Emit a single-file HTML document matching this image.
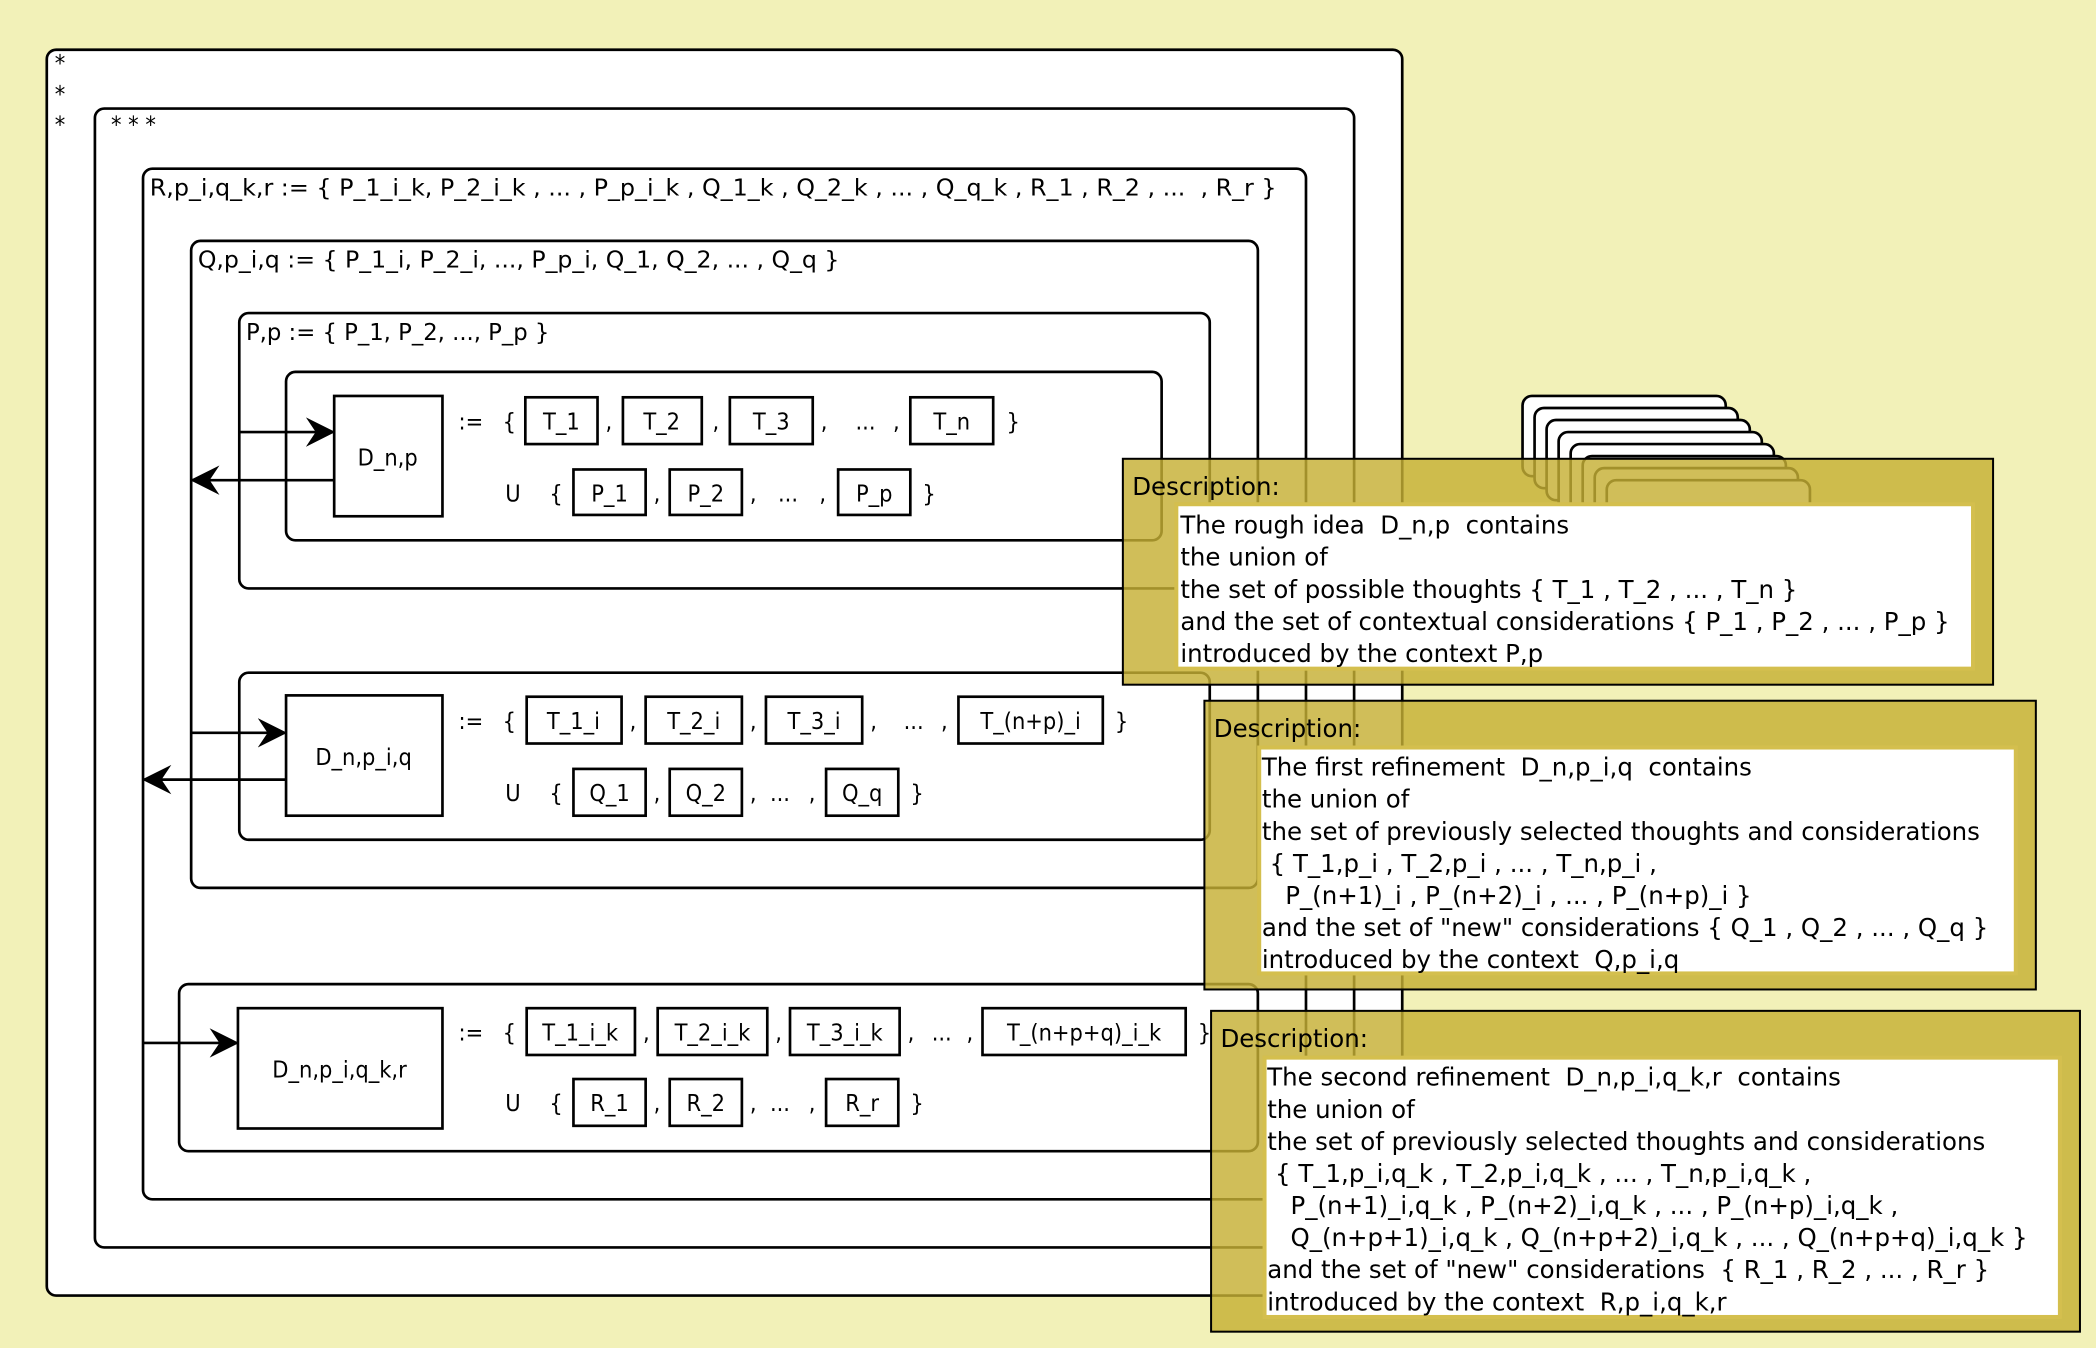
<!DOCTYPE html>
<html><head><meta charset="utf-8"><style>
html,body{margin:0;padding:0;background:#f2f1b8;}
svg{display:block}
text{white-space:pre}
.d{font-family:"DejaVu Sans Condensed","DejaVu Sans","Liberation Sans Narrow","Liberation Sans",sans-serif;font-stretch:condensed;font-size:17.5px;fill:#000}
.t{font-family:"DejaVu Sans","Liberation Sans",sans-serif;font-size:18.3px;fill:#000}
</style></head><body>
<svg width="2096" height="1348" viewBox="0 0 1568 1008" xmlns="http://www.w3.org/2000/svg">
<defs>
<marker id="ar" viewBox="0 0 12 12" refX="11" refY="6" markerWidth="22" markerHeight="22" markerUnits="userSpaceOnUse" orient="auto">
<path d="M0,0 L12,6 L0,12 L4,6 Z" fill="#000"/></marker>
</defs>
<rect width="1568" height="1008" fill="#f2f1b8"/>
<g fill="#fff" stroke="#000" stroke-width="2">
<rect x="35" y="37" width="1014" height="932" rx="7"/>
<rect x="71" y="81" width="942" height="852" rx="7"/>
<rect x="107" y="126" width="870" height="771" rx="7"/>
<rect x="143" y="180" width="798" height="484" rx="7"/>
<rect x="179" y="234" width="726" height="206" rx="7"/>
<rect x="214" y="278" width="655" height="126" rx="7"/>
<rect x="179" y="503" width="726" height="125" rx="7"/>
<rect x="134" y="736" width="807" height="125" rx="7"/>
</g>
<g class="d">
<text x="41" y="53">*</text><text x="41" y="76">*</text><text x="41" y="99">*</text>
<text x="83" y="99">* * *</text>
<text x="112" y="146" textLength="843" lengthAdjust="spacingAndGlyphs">R,p_i,q_k,r := { P_1_i_k, P_2_i_k , ... , P_p_i_k , Q_1_k , Q_2_k , ... , Q_q_k , R_1 , R_2 , ...  , R_r }</text>
<text x="148" y="200" textLength="480" lengthAdjust="spacingAndGlyphs">Q,p_i,q := { P_1_i, P_2_i, ..., P_p_i, Q_1, Q_2, ... , Q_q }</text>
<text x="184" y="254" textLength="227" lengthAdjust="spacingAndGlyphs">P,p := { P_1, P_2, ..., P_p }</text>
</g>
<g fill="#fff" stroke="#000" stroke-width="2">
<rect x="250" y="296" width="81" height="90"/>
<rect x="214" y="520" width="117" height="90"/>
<rect x="178" y="754" width="153" height="90"/>
<rect x="393" y="297" width="54" height="35"/><rect x="466" y="297" width="59" height="35"/><rect x="546" y="297" width="62" height="35"/><rect x="681" y="297" width="62" height="35"/>
<rect x="429" y="351" width="54" height="34"/><rect x="501" y="351" width="54" height="34"/><rect x="627" y="351" width="54" height="34"/>
<rect x="394" y="521" width="71" height="35"/><rect x="483" y="521" width="72" height="35"/><rect x="573" y="521" width="72" height="35"/><rect x="717" y="521" width="108" height="35"/>
<rect x="429" y="575" width="54" height="35"/><rect x="501" y="575" width="54" height="35"/><rect x="618" y="575" width="54" height="35"/>
<rect x="394" y="754" width="81" height="35"/><rect x="492" y="754" width="82" height="35"/><rect x="591" y="754" width="82" height="35"/><rect x="735" y="754" width="152" height="35"/>
<rect x="429" y="807" width="54" height="35"/><rect x="501" y="807" width="54" height="35"/><rect x="618" y="807" width="54" height="35"/>
</g>
<g stroke="#000" stroke-width="2" fill="none">
<line x1="179" y1="323" x2="249" y2="323" marker-end="url(#ar)"/>
<line x1="250" y1="359" x2="144" y2="359" marker-end="url(#ar)"/>
<line x1="143" y1="548" x2="213" y2="548" marker-end="url(#ar)"/>
<line x1="214" y1="583" x2="108" y2="583" marker-end="url(#ar)"/>
<line x1="107" y1="780" x2="177" y2="780" marker-end="url(#ar)"/>
</g>
<g class="d" text-anchor="middle">
<text x="290" y="348">D_n,p</text>
<text x="272" y="572">D_n,p_i,q</text>
<text x="254" y="806">D_n,p_i,q_k,r</text>
<text x="420" y="321">T_1</text><text x="495" y="321">T_2</text><text x="577" y="321">T_3</text><text x="712" y="321">T_n</text>
<text x="456" y="375">P_1</text><text x="528" y="375">P_2</text><text x="654" y="375">P_p</text>
<text x="429" y="545">T_1_i</text><text x="519" y="545">T_2_i</text><text x="609" y="545">T_3_i</text><text x="771" y="545">T_(n+p)_i</text>
<text x="456" y="599">Q_1</text><text x="528" y="599">Q_2</text><text x="645" y="599">Q_q</text>
<text x="434" y="778">T_1_i_k</text><text x="533" y="778">T_2_i_k</text><text x="632" y="778">T_3_i_k</text><text x="811" y="778">T_(n+p+q)_i_k</text>
<text x="456" y="831">R_1</text><text x="528" y="831">R_2</text><text x="645" y="831">R_r</text>
</g>
<g class="d">
<text x="343" y="321">:=</text><text x="376" y="321">{</text><text x="453" y="321">,</text><text x="533" y="321">,</text><text x="614" y="321">,</text><text x="640" y="321">...</text><text x="668" y="321">,</text><text x="753" y="321">}</text>
<text x="378" y="375">U</text><text x="411" y="375">{</text><text x="489" y="375">,</text><text x="561" y="375">,</text><text x="582" y="375">...</text><text x="613" y="375">,</text><text x="690" y="375">}</text>
<text x="343" y="545">:=</text><text x="376" y="545">{</text><text x="471" y="545">,</text><text x="561" y="545">,</text><text x="651" y="545">,</text><text x="676" y="545">...</text><text x="704" y="545">,</text><text x="834" y="545">}</text>
<text x="378" y="599">U</text><text x="411" y="599">{</text><text x="489" y="599">,</text><text x="561" y="599">,</text><text x="576" y="599">...</text><text x="605" y="599">,</text><text x="681" y="599">}</text>
<text x="343" y="778">:=</text><text x="376" y="778">{</text><text x="481" y="778">,</text><text x="580" y="778">,</text><text x="679" y="778">,</text><text x="697" y="778">...</text><text x="723" y="778">,</text><text x="896" y="778">}</text>
<text x="378" y="831">U</text><text x="411" y="831">{</text><text x="489" y="831">,</text><text x="561" y="831">,</text><text x="576" y="831">...</text><text x="605" y="831">,</text><text x="681" y="831">}</text>
</g>
<g fill="#fff" stroke="#000" stroke-width="2">
<rect x="1139" y="296" width="152" height="60" rx="7"/>
<rect x="1148" y="305" width="152" height="60" rx="7"/>
<rect x="1157" y="314" width="152" height="60" rx="7"/>
<rect x="1166" y="323" width="152" height="60" rx="7"/>
<rect x="1175" y="332" width="152" height="60" rx="7"/>
<rect x="1184" y="341" width="152" height="60" rx="7"/>
<rect x="1193" y="350" width="152" height="60" rx="7"/>
<rect x="1202" y="359" width="152" height="60" rx="7"/>
</g>
<g stroke="#000" stroke-width="1.5">
<rect x="840" y="343" width="651" height="169" fill="#c6b034" fill-opacity="0.82"/>
<rect x="901" y="524" width="622" height="216" fill="#c6b034" fill-opacity="0.82"/>
<rect x="906" y="756" width="650" height="240" fill="#c6b034" fill-opacity="0.82"/>
</g>
<g fill="#fff" stroke="#d4bf4e" stroke-width="3">
<rect x="880" y="377" width="596" height="123"/>
<rect x="942" y="559" width="566" height="169"/>
<rect x="946" y="791" width="595" height="194"/>
</g>
<g class="t">
<text x="847" y="370">Description:</text>
<text x="883" y="399">The rough idea  D_n,p  contains</text>
<text x="883" y="423">the union of</text>
<text x="883" y="447">the set of possible thoughts { T_1 , T_2 , ... , T_n }</text>
<text x="883" y="471">and the set of contextual considerations { P_1 , P_2 , ... , P_p }</text>
<text x="883" y="495">introduced by the context P,p</text>
<text x="908" y="551">Description:</text>
<text x="944" y="580">The first refinement  D_n,p_i,q  contains</text>
<text x="944" y="604">the union of</text>
<text x="944" y="628">the set of previously selected thoughts and considerations</text>
<text x="944" y="652"> { T_1,p_i , T_2,p_i , ... , T_n,p_i ,</text>
<text x="944" y="676">   P_(n+1)_i , P_(n+2)_i , ... , P_(n+p)_i }</text>
<text x="944" y="700">and the set of "new" considerations { Q_1 , Q_2 , ... , Q_q }</text>
<text x="944" y="724">introduced by the context  Q,p_i,q</text>
<text x="913" y="783">Description:</text>
<text x="948" y="812">The second refinement  D_n,p_i,q_k,r  contains</text>
<text x="948" y="836">the union of</text>
<text x="948" y="860">the set of previously selected thoughts and considerations</text>
<text x="948" y="884"> { T_1,p_i,q_k , T_2,p_i,q_k , ... , T_n,p_i,q_k ,</text>
<text x="948" y="908">   P_(n+1)_i,q_k , P_(n+2)_i,q_k , ... , P_(n+p)_i,q_k ,</text>
<text x="948" y="932">   Q_(n+p+1)_i,q_k , Q_(n+p+2)_i,q_k , ... , Q_(n+p+q)_i,q_k }</text>
<text x="948" y="956">and the set of "new" considerations  { R_1 , R_2 , ... , R_r }</text>
<text x="948" y="980">introduced by the context  R,p_i,q_k,r</text>
</g>
</svg>
</body></html>
